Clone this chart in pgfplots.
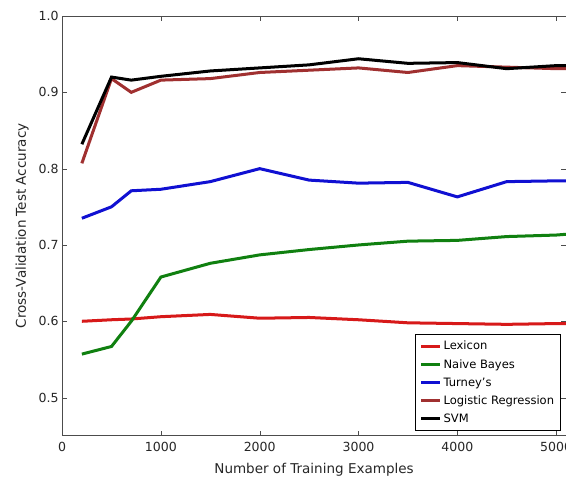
\documentclass[border=0pt]{standalone}
\usepackage{fontspec}
\setmainfont{DejaVu Sans}
\usepackage{pgfplots}
\pgfplotsset{compat=1.18}

\definecolor{lexred}{RGB}{215,25,25}
\definecolor{nbgreen}{RGB}{16,128,16}
\definecolor{tblue}{RGB}{16,16,210}
\definecolor{lrbrown}{RGB}{160,48,48}

\begin{document}
\begin{tikzpicture}
\begin{axis}[
    name=ax,
    scale only axis,
    width=503pt, height=419pt,
    xmin=0, xmax=5100,
    ymin=0.45, ymax=1.0,
    xtick={0,1000,2000,3000,4000,5000},
    ytick={0.5,0.6,0.7,0.8,0.9,1.0},
    tick align=inside,
    major tick length=5pt,
    tick style={black!70},
    axis line style={black!70, line width=0.8pt},
    /pgf/number format/assume math mode=true,
    ticklabel style={font=\fontsize{12.5}{15}\selectfont, text=black!85},
    xticklabel style={/pgf/number format/set thousands separator={}, yshift=-3pt},
    yticklabel style={/pgf/number format/fixed, /pgf/number format/fixed zerofill, /pgf/number format/precision=1},
    xlabel={Number of Training Examples},
    ylabel={Cross-Validation Test Accuracy},
    label style={font=\fontsize{13.5}{16}\selectfont, text=black!85},
    xlabel style={at={(axis description cs:0.5,0)}, anchor=center, yshift=-34pt},
    ylabel style={at={(axis description cs:0,0.5)}, anchor=center, yshift=40pt},
    legend cell align=left,
    legend style={at={(1,0)}, anchor=south east, xshift=-5pt, yshift=5pt,
        draw=black, line width=0.8pt,
        font=\fontsize{11.5}{13.5}\selectfont, row sep=4pt, inner sep=4.5pt},
    legend image code/.code={\draw[#1, line width=2.8pt] (0pt,0pt) -- (19pt,0pt);},
    every axis plot/.append style={line width=3pt},
]
\addplot[lexred] coordinates {
(200,0.600) (500,0.602) (700,0.603) (1000,0.606) (1500,0.609) (2000,0.604)
(2500,0.605) (3000,0.602) (3500,0.598) (4000,0.597) (4500,0.596) (5000,0.597) (5100,0.597)};
\addlegendentry{Lexicon}
\addplot[nbgreen] coordinates {
(200,0.557) (500,0.567) (700,0.600) (1000,0.658) (1500,0.676) (2000,0.687)
(2500,0.694) (3000,0.700) (3500,0.705) (4000,0.706) (4500,0.711) (5000,0.713) (5100,0.714)};
\addlegendentry{Naive Bayes}
\addplot[tblue] coordinates {
(200,0.735) (500,0.750) (700,0.771) (1000,0.773) (1500,0.783) (2000,0.800)
(2500,0.785) (3000,0.781) (3500,0.782) (4000,0.763) (4500,0.783) (5000,0.784) (5100,0.784)};
\addlegendentry{Turney's}
\addplot[lrbrown] coordinates {
(200,0.807) (500,0.918) (700,0.900) (1000,0.916) (1500,0.918) (2000,0.926)
(2500,0.929) (3000,0.932) (3500,0.926) (4000,0.935) (4500,0.933) (5000,0.931) (5100,0.931)};
\addlegendentry{Logistic Regression}
\addplot[black] coordinates {
(200,0.832) (500,0.920) (700,0.916) (1000,0.921) (1500,0.928) (2000,0.932)
(2500,0.936) (3000,0.944) (3500,0.938) (4000,0.939) (4500,0.931) (5000,0.935) (5100,0.935)};
\addlegendentry{SVM}
\end{axis}
\pgfresetboundingbox
\path[use as bounding box] ([xshift=-62pt,yshift=-42pt]ax.south west) rectangle ([yshift=16pt]ax.north east);
\end{tikzpicture}
\end{document}
